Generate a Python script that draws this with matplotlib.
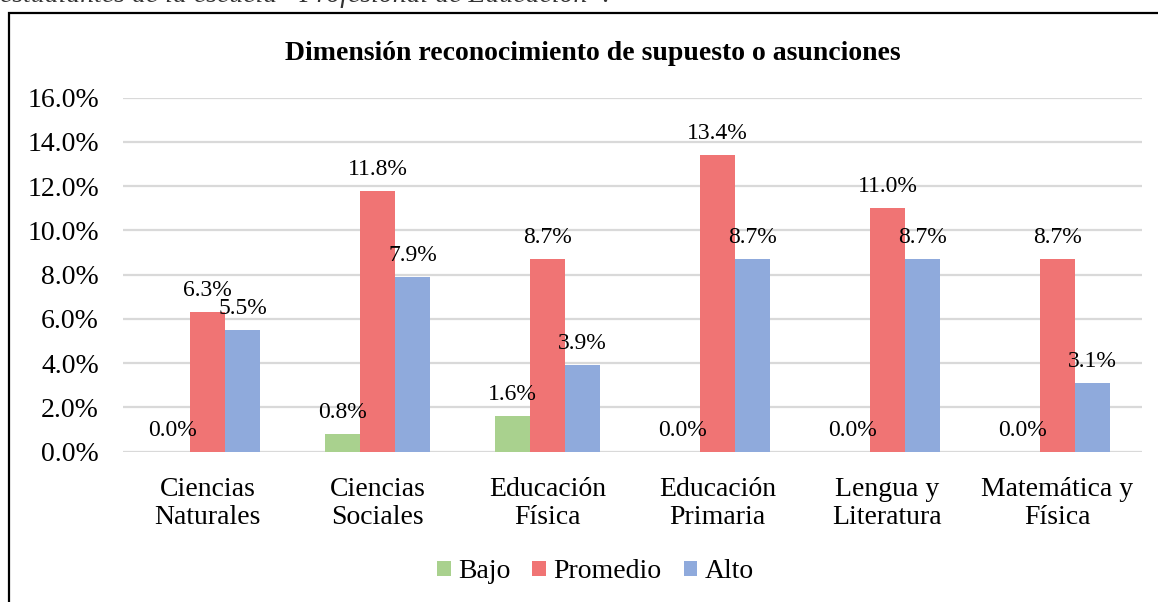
import matplotlib
matplotlib.use("Agg")
import matplotlib.pyplot as plt
import numpy as np
from matplotlib.patches import Patch, Rectangle

categories = ["Ciencias\nNaturales", "Ciencias\nSociales", "Educación\nFísica",
              "Educación\nPrimaria", "Lengua y\nLiteratura", "Matemática y\nFísica"]
series_names = ["Bajo", "Promedio", "Alto"]
bajo = [0.0, 0.8, 1.6, 0.0, 0.0, 0.0]
promedio = [6.3, 11.8, 8.7, 13.4, 11.0, 8.7]
alto = [5.5, 7.9, 3.9, 8.7, 8.7, 3.1]
yticks = [0, 2, 4, 6, 8, 10, 12, 14, 16]
title = "Dimensión reconocimiento de supuesto o asunciones"
caption = "estudiantes de la escuela \u201cProfesional de Educación\u201d."

colors = ["#A9D18E", "#F07474", "#8FAADC"]

plt.rcParams["font.family"] = ["Liberation Serif", "DejaVu Serif"]

fig = plt.figure(figsize=(11.58, 6.02), dpi=100)
ax = fig.add_axes([0.1058, 0.2497, 0.8808, 0.588])

x = np.arange(len(categories))
w = 0.206
data = [bajo, promedio, alto]
for i, (vals, c) in enumerate(zip(data, colors)):
    xs = x + (i - 1) * w
    ax.bar(xs, vals, width=w, color=c, zorder=3)
    for xi, v in zip(xs, vals):
        ax.annotate(f"{v:.1f}%", (xi, v), xytext=(0, 11.5), textcoords="offset points",
                    ha="center", va="baseline", fontsize=17, zorder=5)

ax.set_xlim(-0.5, len(categories) - 0.5)
ax.set_ylim(0, 16)
ax.set_yticks(yticks)
ax.set_yticklabels([f"{t:.1f}%" for t in yticks], fontsize=20)
ax.set_xticks(x)
ax.set_xticklabels(categories, fontsize=20, linespacing=1.2)
ax.tick_params(axis="both", length=0)
ax.tick_params(axis="y", pad=17)
ax.tick_params(axis="x", pad=18)
ax.grid(axis="y", color="#D9D9D9", linewidth=1.6, zorder=0)
for s in ax.spines.values():
    s.set_visible(False)

fig.text(0.512, 1 - 53 / 602, title, ha="center", va="center", fontsize=20, fontweight="bold")

# frame around chart area (extends past the image edges)
fig.patches.append(Rectangle((8.5 / 1158, -0.1), 1.2, 1 - 12.5 / 602 + 0.1,
                             transform=fig.transFigure, fill=False,
                             edgecolor="black", linewidth=1.6))
# cropped caption line above the frame (only its lower edge is visible)
fig.text(0.0, 1 - 1.5 / 602, caption, ha="left", va="baseline", fontsize=20,
         style="italic", color="#333333")

handles = [Patch(facecolor=c, edgecolor="none") for c in colors]
fig.legend(handles, series_names, loc="center", bbox_to_anchor=(0.514, 0.05), ncol=3,
           frameon=False, fontsize=20, handlelength=0.5, handleheight=0.5,
           handletextpad=0.25, columnspacing=0.8)

fig.savefig("out.png", dpi=100)
